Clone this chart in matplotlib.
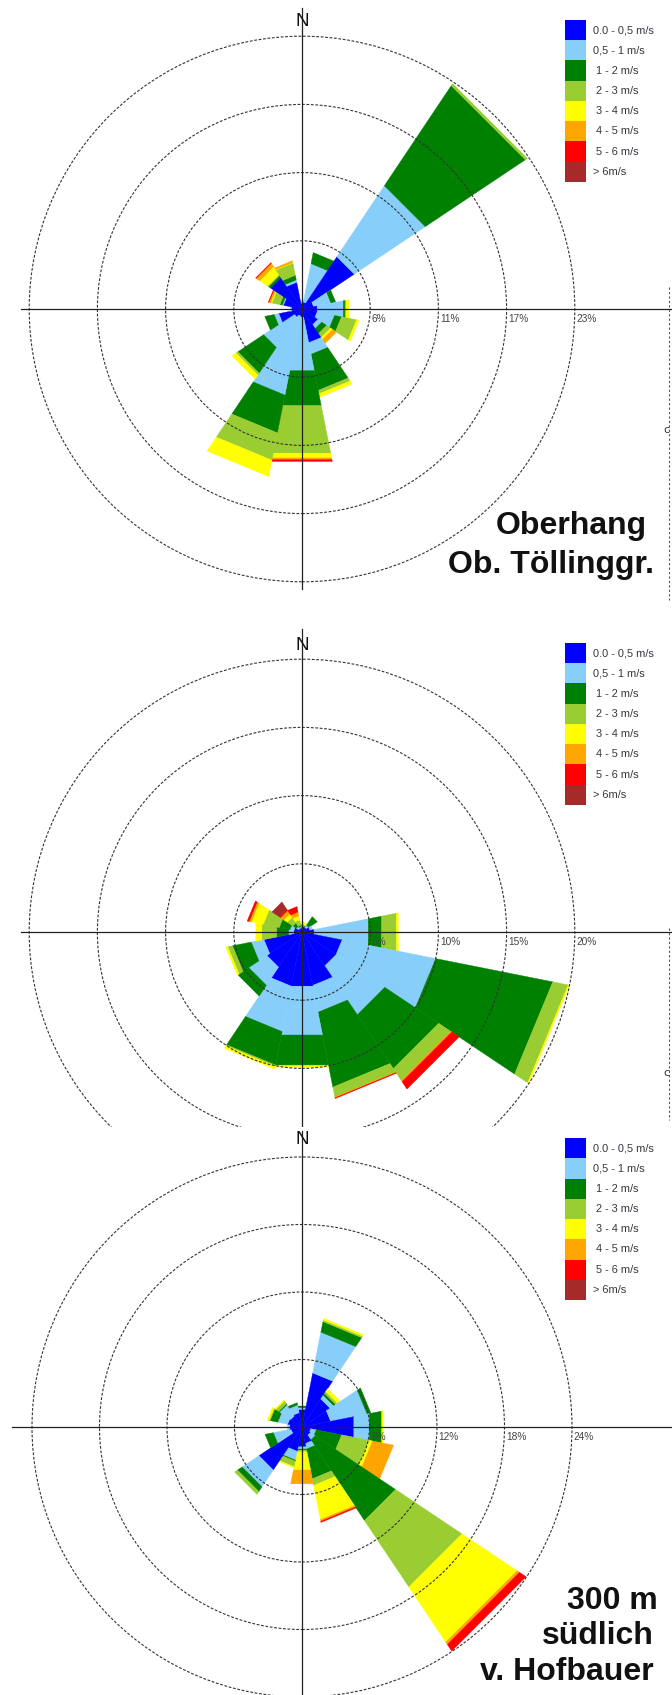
import matplotlib.pyplot as plt
import numpy as np
from matplotlib.patches import Circle, Rectangle

W, H = 672, 1695

directions = ['N', 'NNE', 'NE', 'ENE', 'E', 'ESE', 'SE', 'SSE',
              'S', 'SSW', 'SW', 'WSW', 'W', 'WNW', 'NW', 'NNW']
speed_classes = ['0.0 - 0,5 m/s', '0,5 - 1 m/s', ' 1 - 2 m/s', ' 2 - 3 m/s',
                 ' 3 - 4 m/s', ' 4 - 5 m/s', ' 5 - 6 m/s', '> 6m/s']
class_colors = ['#0000ff', '#87cefa', '#008000', '#9acd32',
                '#ffff00', '#ffa500', '#ff0000', '#a52a2a']

# frequency in % per direction (N, NNE, ... clockwise), one list per speed class

# Oberhang Ob. Töllinggraben
ob_c0 = [0.5, 0.6, 5.3, 1.0, 1.3, 1.3, 1.6, 2.9, 0.7, 0.6, 0.8, 2.0, 0.9, 1.6, 3.2, 2.3]
ob_c1 = [0.2, 3.3, 7.2, 1.5, 2.25, 1.5, 0.4, 1.0, 4.6, 6.8, 3.1, 0.4, 0.1, 0.1, 0.0, 0.2]
ob_c2 = [0.0, 0.95, 10.15, 0.4, 0.15, 0.6, 0.5, 3.1, 3.0, 3.25, 2.6, 0.8, 0.0, 0.2, 0.2, 0.4]
ob_c3 = [0.0, 0.0, 0.2, 0.0, 0.1, 1.3, 0.4, 0.3, 4.1, 2.35, 0.2, 0.0, 0.0, 0.7, 0.1, 1.05]
ob_c4 = [0.0, 0.0, 0.0, 0.0, 0.25, 0.2, 0.2, 0.3, 0.4, 1.4, 0.4, 0.0, 0.0, 0.1, 0.8, 0.05]
ob_c5 = [0.0, 0.0, 0.0, 0.0, 0.0, 0.0, 0.4, 0.0, 0.15, 0.0, 0.0, 0.0, 0.0, 0.15, 0.35, 0.15]
ob_c6 = [0.0, 0.0, 0.0, 0.0, 0.0, 0.0, 0.0, 0.0, 0.15, 0.0, 0.0, 0.0, 0.0, 0.05, 0.05, 0.0]
ob_c7 = [0.0] * 16

# middle station
mi_c0 = [0.4, 0.4, 0.4, 0.6, 0.9, 3.0, 3.0, 4.0, 4.05, 4.05, 3.1, 2.85, 0.6, 0.6, 0.3, 0.3]
mi_c1 = [0.1, 0.05, 0.2, 0.2, 4.05, 7.0, 4.3, 2.0, 3.65, 3.4, 1.6, 0.95, 0.4, 0.3, 0.2, 0.1]
mi_c2 = [0.05, 0.05, 0.75, 0.0, 1.0, 8.75, 4.75, 5.6, 2.25, 2.5, 0.95, 1.4, 0.9, 0.8, 0.3, 0.1]
mi_c3 = [0.05, 0.05, 0.0, 0.0, 1.1, 1.15, 1.05, 0.75, 0.05, 0.1, 0.0, 0.35, 1.1, 1.2, 0.5, 0.4]
mi_c4 = [0.2, 0.15, 0.0, 0.0, 0.15, 0.1, 0.0, 0.0, 0.1, 0.2, 0.0, 0.15, 0.45, 0.9, 0.3, 0.3]
mi_c5 = [0.0, 0.0, 0.0, 0.0, 0.0, 0.0, 0.1, 0.05, 0.0, 0.0, 0.0, 0.0, 0.0, 0.15, 0.3, 0.3]
mi_c6 = [0.0, 0.0, 0.0, 0.0, 0.0, 0.0, 0.65, 0.05, 0.0, 0.0, 0.0, 0.0, 0.0, 0.15, 0.1, 0.4]
mi_c7 = [0.0, 0.0, 0.0, 0.0, 0.0, 0.0, 0.0, 0.0, 0.0, 0.0, 0.0, 0.0, 0.0, 0.0, 0.65, 0.0]

# 300 m südlich v. Hofbauer
hb_c0 = [1.6, 4.9, 3.0, 2.6, 4.7, 0.8, 0.9, 1.5, 1.8, 2.2, 4.6, 1.0, 1.1, 1.3, 1.2, 1.3]
hb_c1 = [0.15, 3.7, 0.4, 3.3, 1.4, 0.5, 0.5, 0.5, 0.2, 0.8, 1.8, 1.6, 0.2, 0.9, 1.2, 0.7]
hb_c2 = [0.15, 0.95, 0.2, 0.35, 1.1, 2.3, 8.6, 2.7, 0.1, 0.1, 0.5, 0.75, 0.0, 0.7, 0.1, 0.2]
hb_c3 = [0.0, 0.15, 0.2, 0.0, 0.05, 2.5, 7.1, 0.6, 0.15, 0.5, 0.3, 0.0, 0.0, 0.1, 0.3, 0.0]
hb_c4 = [0.0, 0.15, 0.3, 0.0, 0.1, 0.3, 5.9, 3.1, 1.65, 0.1, 0.0, 0.0, 0.0, 0.15, 0.1, 0.0]
hb_c5 = [0.0, 0.0, 0.0, 0.0, 0.0, 1.9, 0.25, 0.15, 1.25, 0.0, 0.0, 0.0, 0.0, 0.0, 0.0, 0.0]
hb_c6 = [0.0, 0.0, 0.0, 0.0, 0.0, 0.0, 0.7, 0.1, 0.0, 0.0, 0.0, 0.0, 0.0, 0.0, 0.0, 0.0]
hb_c7 = [0.0] * 16

ob_rings = ['6%', '11%', '17%', '23%']
mi_rings = ['5%', '10%', '15%', '20%']
hb_rings = ['6%', '12%', '18%', '24%']


def fig_xy(x, y):
    return x / W, 1 - y / H


def draw_rose(fig, panel, center, ring_px, ring_step, ring_labels, classes,
              title=None, left=281, top=301, bottom=None):
    y0, y1 = panel
    cx, cy = center
    ppp = ring_px / ring_step  # pixels per percent
    ax = fig.add_axes([0, 1 - y1 / H, 1, (y1 - y0) / H])
    ax.set_xlim(-cx / ppp, (W - cx) / ppp)
    ax.set_ylim(-(y1 - cy) / ppp, (cy - y0) / ppp)
    ax.axis('off')

    freq = np.array(classes)
    cum = np.vstack([np.zeros(len(directions)), np.cumsum(freq, axis=0)])
    half = 360 / len(directions) / 2
    for i in range(len(directions)):
        ang = i * 360 / len(directions)
        t = np.radians([ang - half, ang - half, ang + half, ang + half])
        for k in range(len(class_colors)):
            r0, r1 = cum[k, i], cum[k + 1, i]
            if r1 - r0 <= 0:
                continue
            r = np.array([r0, r1, r1, r0])
            ax.fill(r * np.sin(t), r * np.cos(t), color=class_colors[k],
                    lw=0.3, ec=class_colors[k], zorder=1)

    for k in range(1, len(ring_labels) + 1):
        ax.add_patch(Circle((0, 0), k * ring_step, fill=False, ec='#333333',
                            lw=0.8, ls=(0, (2.5, 1.5)), zorder=2))
        ax.text(k * ring_step + 1.5 / ppp, -5 / ppp, ring_labels[k - 1],
                ha='left', va='top', fontsize=7.3, color='#444444',
                family='Liberation Sans', zorder=4)

    # cross hair through the centre
    ax.plot([-left / ppp, (W - cx) / ppp], [0, 0], color='#222222', lw=0.9, zorder=3)
    bot = (y1 - cy) if bottom is None else bottom
    ax.plot([0, 0], [-bot / ppp, top / ppp], color='#222222', lw=0.9, zorder=3)
    ax.text(0, 287 / ppp, 'N', ha='center', va='center', fontsize=13.5,
            family='Liberation Sans', color='#111111', zorder=4)

    # speed class legend
    box_h = 20.25
    ly = cy - 289
    for k, lab in enumerate(speed_classes):
        x, y = fig_xy(565, ly + (k + 1) * box_h)
        fig.patches.append(Rectangle((x, y), 21 / W, box_h / H,
                                     transform=fig.transFigure, figure=fig,
                                     color=class_colors[k], lw=0))
        tx, ty = fig_xy(593, ly + (k + 0.5) * box_h)
        fig.text(tx, ty, lab, ha='left', va='center', fontsize=7.9,
                 color='#3a3440', family='Liberation Sans')

    if title:
        for txt, x, y in title:
            tx, ty = fig_xy(x, y)
            fig.text(tx, ty, txt, ha='right', va='baseline', fontsize=23,
                     fontweight='bold', family='Liberation Sans', color='#111111')


fig = plt.figure(figsize=(W / 100, H / 100), dpi=100)

draw_rose(fig, (0, 598), (302, 309), 68.2, 5.75, ob_rings,
          [ob_c0, ob_c1, ob_c2, ob_c3, ob_c4, ob_c5, ob_c6, ob_c7],
          title=[('Oberhang', 647, 534), ('Ob. Töllinggr.', 654, 573)],
          left=281, top=301, bottom=280)

draw_rose(fig, (598, 1127), (302, 932), 68.2, 5.0, mi_rings,
          [mi_c0, mi_c1, mi_c2, mi_c3, mi_c4, mi_c5, mi_c6, mi_c7],
          left=281, top=303)

draw_rose(fig, (1127, 1695), (302, 1427), 67.5, 6.0, hb_rings,
          [hb_c0, hb_c1, hb_c2, hb_c3, hb_c4, hb_c5, hb_c6, hb_c7],
          title=[('300 m', 658, 1609), ('südlich', 654, 1644), ('v. Hofbauer', 654, 1680)],
          left=290, top=296)

# edge of the neighbouring plot, cut off at the right border
edge = fig.add_axes([0, 0, 1, 1])
edge.set_xlim(0, W)
edge.set_ylim(H, 0)
edge.axis('off')
for ya, yb in [(287, 600), (928, 1120)]:
    edge.plot([669, 669], [ya, yb], color='#555555', lw=0.8, ls=(0, (2, 2)))
edge.text(666, 430, 'c', ha='center', va='center', fontsize=8, color='#333333')
edge.text(666, 1073, 'c', ha='center', va='center', fontsize=8, color='#333333')

fig.savefig('out.png', dpi=100)
